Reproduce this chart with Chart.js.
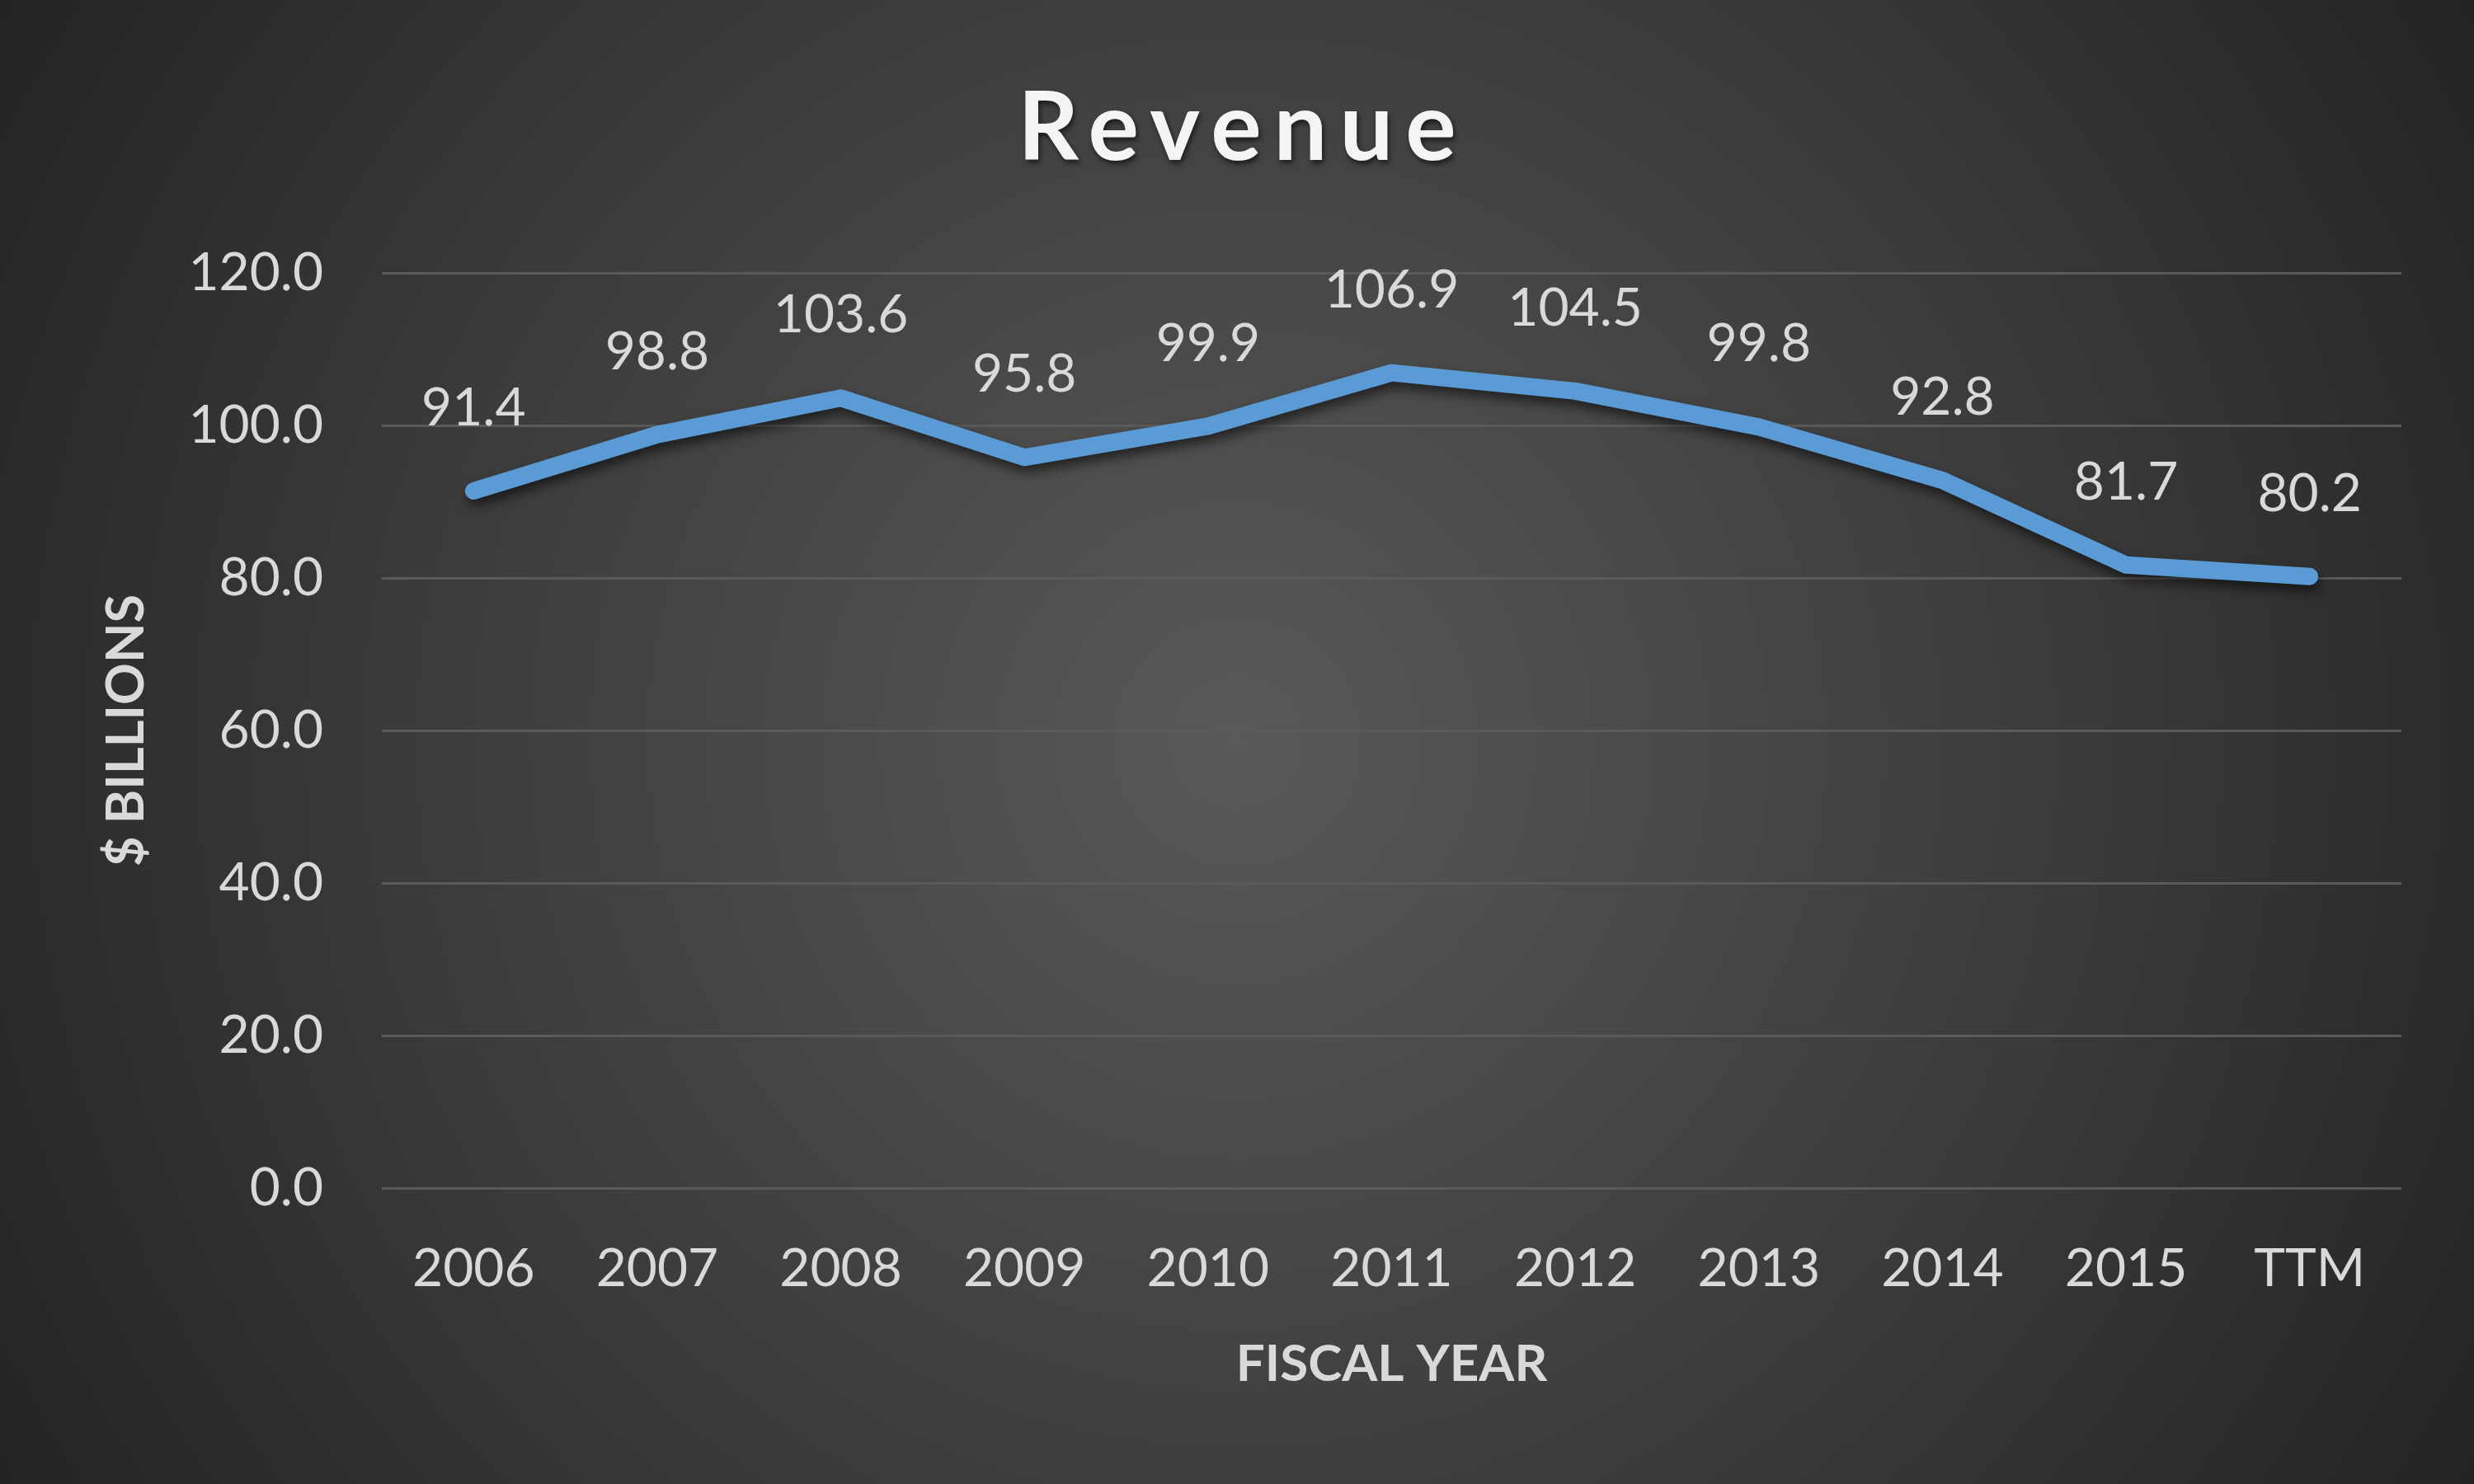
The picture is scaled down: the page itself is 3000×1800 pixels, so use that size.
<!DOCTYPE html>
<html><head><meta charset="utf-8">
<script src="https://cdn.jsdelivr.net/npm/chart.js@4"></script>
<style>html,body{margin:0;padding:0;background:#333;overflow:hidden}#wrap{width:3000px;height:1800px;position:relative}</style>
</head><body><div id="wrap"><canvas id="c"></canvas></div>
<script>
const categories = ['2006','2007','2008','2009','2010','2011','2012','2013','2014','2015','TTM'];
const revenue = [91.4, 98.8, 103.6, 95.8, 99.9, 106.9, 104.5, 99.8, 92.8, 81.7, 80.2];
const yTicks = [0, 20, 40, 60, 80, 100, 120];
const chartTitle = 'Revenue';
const xTitle = 'FISCAL YEAR';
const yTitle = '$ BILLIONS';

const FONT = 'Lato, "Open Sans", sans-serif';

const bgPlugin = {
  id: 'bg',
  beforeDraw(chart) {
    const ctx = chart.ctx, w = chart.width, h = chart.height;
    ctx.save();
    const g = ctx.createRadialGradient(w/2, h/2, 0, w/2, h/2, Math.sqrt(w*w+h*h)/2);
    g.addColorStop(0, '#595959');
    g.addColorStop(0.55, '#3c3c3c');
    g.addColorStop(1, '#232323');
    ctx.fillStyle = g;
    ctx.fillRect(0, 0, w, h);
    ctx.restore();
  },
  beforeDatasetDraw(chart) {
    const ctx = chart.ctx;
    ctx.save();
    ctx.shadowColor = 'rgba(0,0,0,0.55)';
    ctx.shadowBlur = 14;
    ctx.shadowOffsetX = 3;
    ctx.shadowOffsetY = 8;
  },
  afterDatasetDraw(chart) {
    chart.ctx.restore();
  },
  afterDatasetsDraw(chart) {
    const ctx = chart.ctx;
    const meta = chart.getDatasetMeta(0);
    ctx.save();
    ctx.font = '64px ' + FONT;
    ctx.fillStyle = '#d9d9d9';
    ctx.textAlign = 'center';
    ctx.textBaseline = 'middle';
    meta.data.forEach((pt, i) => {
      ctx.fillText(revenue[i].toFixed(1), pt.x, pt.y - 100);
    });
    ctx.restore();
  },
  afterDraw(chart) {
    const ctx = chart.ctx;
    ctx.save();
    ctx.font = 'bold 115px ' + FONT;
    const sp = 15;
    ctx.letterSpacing = sp + 'px';
    ctx.fillStyle = '#f4f4f4';
    ctx.textAlign = 'left';
    ctx.textBaseline = 'alphabetic';
    ctx.shadowColor = 'rgba(0,0,0,0.6)';
    ctx.shadowBlur = 6;
    ctx.shadowOffsetX = 2;
    ctx.shadowOffsetY = 4;
    const w = ctx.measureText(chartTitle).width - sp;
    ctx.fillText(chartTitle, chart.width/2 - w/2, 194);
    ctx.restore();
  }
};

new Chart(document.getElementById('c'), {
  type: 'line',
  data: {
    labels: categories,
    datasets: [{
      data: revenue,
      borderColor: '#5b9bd5',
      borderWidth: 21,
      borderCapStyle: 'round',
      borderJoinStyle: 'round',
      pointRadius: 0,
      pointHoverRadius: 0,
      tension: 0,
      fill: false
    }]
  },
  options: {
    responsive: true,
    maintainAspectRatio: false,
    devicePixelRatio: 1,
    animation: false,
    events: [],
    layout: { padding: { top: 331, right: 88, left: 0, bottom: 0 } },
    plugins: { legend: { display: false }, tooltip: { enabled: false }, title: { display: false } },
    scales: {
      x: {
        offset: true,
        grid: { display: false, drawTicks: false },
        border: { display: false },
        ticks: { color: '#d9d9d9', font: { family: FONT, size: 64 }, padding: 60, maxRotation: 0, autoSkip: false },
        title: { display: true, text: xTitle, color: '#d9d9d9', font: { family: FONT, size: 62, weight: 'bold' }, padding: { top: 0, bottom: 108 } },
        afterFit(s) { s.height = 359; }
      },
      y: {
        min: 0, max: 120,
        afterBuildTicks(s) { s.ticks = yTicks.map(v => ({ value: v })); },
        grid: { color: '#5a5a5a', lineWidth: 3, drawTicks: false },
        border: { display: false },
        ticks: { color: '#d9d9d9', font: { family: FONT, size: 64 }, padding: 71, callback: v => Number(v).toFixed(1) },
        title: { display: true, text: yTitle, color: '#d9d9d9', font: { family: FONT, size: 63, weight: 'bold' }, padding: { top: 116, bottom: 0 } },
        afterFit(s) { s.width = 463; }
      }
    }
  },
  plugins: [bgPlugin]
});
</script>
</body></html>
